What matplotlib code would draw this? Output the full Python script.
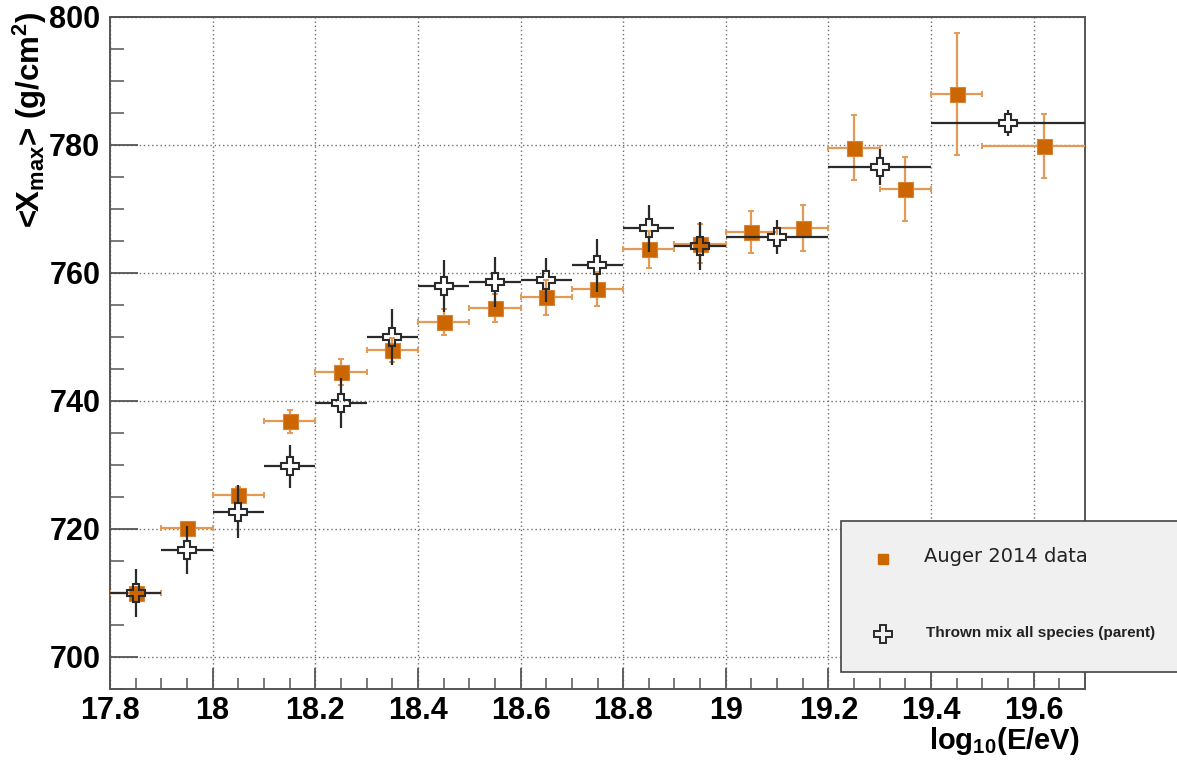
import numpy as np
import matplotlib
matplotlib.use("Agg")
import matplotlib.pyplot as plt
from matplotlib.patches import Rectangle
from matplotlib.lines import Line2D

# ---------------- data ----------------
auger_x = [17.85, 17.95, 18.05, 18.15, 18.25, 18.35, 18.45, 18.55, 18.65,
           18.75, 18.85, 18.95, 19.05, 19.15, 19.25, 19.35, 19.45, 19.62]
auger_y = [710.0, 720.1, 725.3, 736.8, 744.5, 748.0, 752.3, 754.5, 756.2,
           757.5, 763.7, 764.6, 766.4, 767.1, 779.6, 773.1, 788.0, 779.8]
auger_yerr = [0.8, 1.0, 1.3, 1.8, 2.0, 1.9, 2.0, 2.2, 2.7,
              2.7, 2.9, 3.1, 3.3, 3.6, 5.1, 5.0, 9.5, 5.0]
auger_xlo = [0.05] * 17 + [0.12]
auger_xhi = [0.05] * 17 + [0.13]

thrown_x = [17.85, 17.95, 18.05, 18.15, 18.25, 18.35, 18.45, 18.55,
            18.65, 18.75, 18.85, 18.95, 19.10, 19.30, 19.55]
thrown_y = [710.0, 716.7, 722.7, 729.8, 739.7, 750.0, 758.0, 758.6,
            758.9, 761.2, 767.0, 764.2, 765.6, 776.6, 783.4]
thrown_yerr = [3.7, 3.7, 4.1, 3.4, 3.9, 4.4, 4.1, 3.9,
               3.5, 4.1, 3.7, 3.7, 2.7, 2.8, 2.0]
thrown_xerr = [0.05] * 12 + [0.10, 0.10, 0.15]

xticks = [17.8, 18.0, 18.2, 18.4, 18.6, 18.8, 19.0, 19.2, 19.4, 19.6]
xticklabels = ["17.8", "18", "18.2", "18.4", "18.6", "18.8", "19", "19.2", "19.4", "19.6"]
yticks = [700, 720, 740, 760, 780, 800]

label_auger = "Auger 2014 data"
label_thrown = "Thrown mix all species (parent)"

# ---------------- style ----------------
plt.rcParams['mathtext.fontset'] = 'custom'
plt.rcParams['mathtext.rm'] = 'Liberation Sans:bold'
plt.rcParams['mathtext.bf'] = 'Liberation Sans:bold'
plt.rcParams['mathtext.it'] = 'Liberation Sans:bold'

W, H = 1177, 764
fig = plt.figure(figsize=(W / 100, H / 100), dpi=100)
L, R, T, B = 110, 1085, 17, 689
ax = fig.add_axes([L / W, 1 - B / H, (R - L) / W, (B - T) / H])

xmin, xmax, ymin, ymax = 17.8, 19.7, 695, 800
ax.set_xlim(xmin, xmax)
ax.set_ylim(ymin, ymax)

orange = '#cc6600'
orange_err = '#e39a55'
blk = '#2a2a2a'

# grid
ax.grid(True, which='major', linestyle=(0, (1, 2)), color='#707070', linewidth=1.0)
ax.set_axisbelow(True)

# Auger data
ax.errorbar(auger_x, auger_y, xerr=[auger_xlo, auger_xhi], yerr=auger_yerr,
            fmt='none', ecolor=orange_err, elinewidth=1.6, capsize=2.5,
            capthick=1.4, zorder=3)
ax.plot(auger_x, auger_y, 's', color=orange, mec='#d8833a', mew=0.8, ms=10.8,
        ls='none', zorder=4)

# Thrown mix (open crosses, error bars stop at marker edge)
ms_cross = 12.5
bbox = ax.get_position()
ppx = bbox.width * W / (xmax - xmin)
ppy = bbox.height * H / (ymax - ymin)
half_px = ms_cross * 100 / 72 / 2
gx = half_px / ppx
gy = half_px / ppy
tx = np.array(thrown_x)
ty = np.array(thrown_y)
tye = np.array(thrown_yerr)
txe = np.array(thrown_xerr)
ax.vlines(np.concatenate([tx, tx]),
          np.concatenate([ty - tye, ty + gy]),
          np.concatenate([ty - gy, ty + tye]),
          colors=blk, linewidth=1.6, zorder=5)
ax.hlines(np.concatenate([ty, ty]),
          np.concatenate([tx - txe, tx + gx]),
          np.concatenate([tx - gx, tx + txe]),
          colors=blk, linewidth=1.6, zorder=5)
ax.plot(tx, ty, 'P', mfc='none', mec=blk, mew=1.5, ms=ms_cross,
        ls='none', zorder=6)

# axes / ticks
for s in ax.spines.values():
    s.set_color('#555555')
    s.set_linewidth(1.4)

ax.set_xticks(xticks)
ax.set_xticklabels(xticklabels)
ax.set_xticks(np.arange(17.8, 19.7001, 0.05), minor=True)
ax.set_yticks(yticks)
ax.set_yticks(np.arange(695, 800.01, 5), minor=True)
ax.tick_params(axis='x', which='major', direction='in', length=15, width=1.3,
               color='#555555', pad=5, top=False)
ax.tick_params(axis='x', which='minor', direction='in', length=8, width=1.1,
               color='#555555', top=False)
ax.tick_params(axis='y', which='major', direction='in', length=20, width=1.3,
               color='#555555', pad=7, right=False)
ax.tick_params(axis='y', which='minor', direction='in', length=10, width=1.1,
               color='#555555', right=False)
for lab in ax.get_xticklabels() + ax.get_yticklabels():
    lab.set_fontfamily('Liberation Sans')
    lab.set_fontweight('bold')
    lab.set_fontsize(22)

# axis titles
fig.text(1080 / W, 1 - 749 / H, r'log$_{10}$(E/eV)', ha='right', va='baseline',
         fontsize=21, fontweight='bold', family='Liberation Sans')
fig.text(30 / W, 1 - 11 / H, r'<X$_{\mathrm{max}}$> (g/cm$^{\mathrm{2}}$)',
         rotation=90, ha='center', va='top', fontsize=22.5, fontweight='bold',
         family='Liberation Sans')

# legend box
rect = Rectangle((841 / W, 1 - 672 / H), 0.4, (672 - 521) / H,
                 transform=fig.transFigure, facecolor='#f0f0f0',
                 edgecolor='#444444', linewidth=1.2, zorder=10)
fig.add_artist(rect)
fig.add_artist(Line2D([883 / W], [1 - 559 / H], transform=fig.transFigure,
                      marker='s', color=orange, ms=6.5, ls='none', zorder=11))
fig.add_artist(Line2D([883 / W], [1 - 634 / H], transform=fig.transFigure,
                      marker='P', mfc='none', mec=blk, mew=1.4, ms=13.5,
                      ls='none', zorder=11))
fig.text(924 / W, 1 - 557 / H, label_auger, ha='left', va='center',
         fontsize=14, family='DejaVu Sans', color='#222222', zorder=12)
fig.text(926 / W, 1 - 633 / H, label_thrown, ha='left', va='center',
         fontsize=11, fontweight='bold', family='Liberation Sans',
         color='#222222', zorder=12)

fig.savefig('out.png', dpi=100)
